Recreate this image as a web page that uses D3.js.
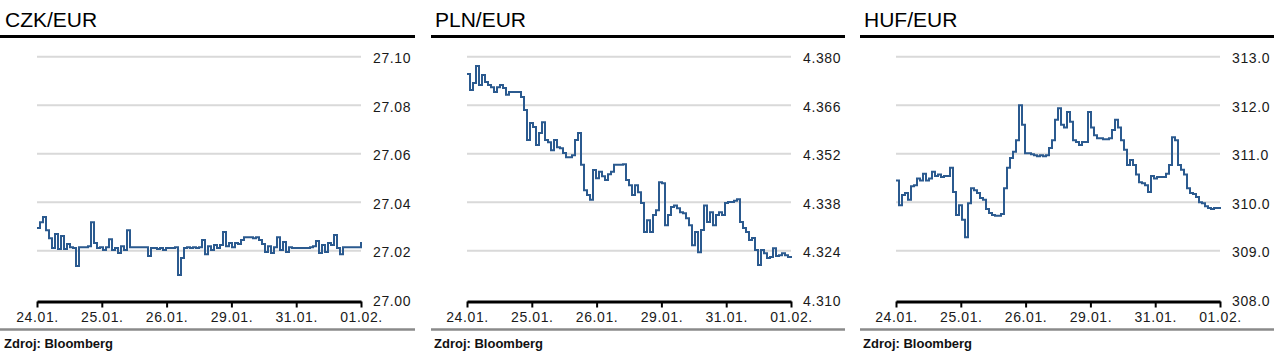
<!DOCTYPE html>
<html>
<head>
<meta charset="utf-8">
<script src="https://cdn.jsdelivr.net/npm/d3@7"></script>
<style>
  html, body { margin: 0; padding: 0; background: #fff; }
  svg { display: block; font-family: "Liberation Sans", Arial, sans-serif; }
</style>
</head>
<body>
<svg id="chart" width="1282" height="361"></svg>
<script>
// ---- data ----
const dateLabels = ["24.01.", "25.01.", "26.01.", "29.01.", "31.01.", "01.02."];

const czkTicks = [27.00, 27.02, 27.04, 27.06, 27.08, 27.10];
const plnTicks = [4.310, 4.324, 4.338, 4.352, 4.366, 4.380];
const hufTicks = [308.0, 309.0, 310.0, 311.0, 312.0, 313.0];

const czkValues = [
  27.0294, 27.0318, 27.0339, 27.0285, 27.0252, 27.0211, 27.0269, 27.0207, 27.0261, 27.0207,
  27.0228, 27.0215, 27.0211, 27.0137, 27.0215, 27.0215, 27.0215, 27.0219, 27.0318, 27.0232,
  27.0211, 27.0215, 27.0203, 27.0215, 27.0248, 27.0203, 27.0211, 27.0191, 27.0219, 27.0203,
  27.0285, 27.0215, 27.0215, 27.0215, 27.0215, 27.0215, 27.0215, 27.0178, 27.0211, 27.0211,
  27.0207, 27.0211, 27.0203, 27.0211, 27.0211, 27.0211, 27.0215, 27.0100, 27.0170, 27.0211,
  27.0215, 27.0211, 27.0215, 27.0211, 27.0215, 27.0244, 27.0186, 27.0219, 27.0203, 27.0224,
  27.0211, 27.0224, 27.0277, 27.0219, 27.0232, 27.0215, 27.0232, 27.0228, 27.0244, 27.0256,
  27.0256, 27.0256, 27.0252, 27.0256, 27.0244, 27.0228, 27.0195, 27.0219, 27.0191, 27.0215,
  27.0256, 27.0203, 27.0236, 27.0195, 27.0215, 27.0211, 27.0211, 27.0211, 27.0211, 27.0211,
  27.0211, 27.0215, 27.0219, 27.0240, 27.0191, 27.0224, 27.0195, 27.0232, 27.0224, 27.0265,
  27.0211, 27.0186, 27.0215, 27.0215, 27.0215, 27.0215, 27.0215, 27.0215, 27.0236
];

const plnValues = [
  4.3750, 4.3704, 4.3724, 4.3773, 4.3718, 4.3747, 4.3727, 4.3718, 4.3712, 4.3698,
  4.3712, 4.3718, 4.3710, 4.3690, 4.3698, 4.3698, 4.3698, 4.3698, 4.3684, 4.3646,
  4.3560, 4.3609, 4.3597, 4.3545, 4.3580, 4.3611, 4.3560, 4.3553, 4.3530, 4.3560,
  4.3539, 4.3536, 4.3522, 4.3510, 4.3510, 4.3516, 4.3560, 4.3580, 4.3488, 4.3415,
  4.3401, 4.3387, 4.3473, 4.3449, 4.3468, 4.3455, 4.3444, 4.3461, 4.3468, 4.3488,
  4.3488, 4.3488, 4.3490, 4.3444, 4.3429, 4.3401, 4.3429, 4.3409, 4.3378, 4.3294,
  4.3328, 4.3294, 4.3343, 4.3357, 4.3438, 4.3435, 4.3314, 4.3343, 4.3366, 4.3371,
  4.3363, 4.3351, 4.3348, 4.3334, 4.3314, 4.3256, 4.3294, 4.3236, 4.3300, 4.3371,
  4.3323, 4.3351, 4.3314, 4.3343, 4.3351, 4.3343, 4.3378, 4.3381, 4.3381, 4.3384,
  4.3389, 4.3323, 4.3306, 4.3294, 4.3271, 4.3277, 4.3242, 4.3199, 4.3242, 4.3233,
  4.3219, 4.3222, 4.3247, 4.3225, 4.3227, 4.3233, 4.3227, 4.3222, 4.3219
];

const hufValues = [
  310.45, 309.94, 310.15, 310.19, 310.05, 310.33, 310.35, 310.49, 310.45, 310.59,
  310.45, 310.49, 310.63, 310.54, 310.57, 310.52, 310.54, 310.54, 310.71, 310.21,
  309.74, 309.94, 309.64, 309.28, 309.98, 310.29, 310.25, 310.19, 310.09, 310.05,
  309.86, 309.78, 309.74, 309.72, 309.72, 309.76, 310.29, 310.71, 310.91, 311.04,
  311.28, 312.00, 311.60, 311.01, 311.01, 310.99, 310.97, 310.95, 310.97, 310.95,
  310.97, 311.12, 311.28, 311.70, 311.94, 311.60, 311.54, 311.86, 311.66, 311.28,
  311.24, 311.18, 311.24, 311.24, 311.86, 311.54, 311.38, 311.32, 311.32, 311.30,
  311.30, 311.32, 311.49, 311.70, 311.54, 311.28, 311.08, 310.77, 310.87, 310.77,
  310.57, 310.41, 310.39, 310.35, 310.21, 310.54, 310.49, 310.52, 310.52, 310.52,
  310.59, 310.77, 311.34, 311.28, 310.77, 310.67, 310.57, 310.29, 310.19, 310.17,
  310.11, 310.00, 309.98, 309.92, 309.88, 309.86, 309.88, 309.88, 309.90
];

const titles = ["CZK/EUR", "PLN/EUR", "HUF/EUR"];
const sourceText = "Zdroj: Bloomberg";

// ---- drawing ----
const panels = [
  { title: titles[0], values: czkValues, ticks: czkTicks, fmt: d3.format(".2f"), offset: 0 },
  { title: titles[1], values: plnValues, ticks: plnTicks, fmt: d3.format(".3f"), offset: 430 },
  { title: titles[2], values: hufValues, ticks: hufTicks, fmt: d3.format(".1f"), offset: 859 }
];

const svg = d3.select("#chart");
svg.append("rect").attr("width", 1282).attr("height", 361).attr("fill", "#fff");

const plotL = 37, plotR = 361, plotTop = 56.7, plotBottom = 299.3, axisY = 301.5;
const lineColor = "#2b5a8f";

panels.forEach(p => {
  const g = svg.append("g").attr("transform", `translate(${p.offset},0)`);

  // title
  g.append("text").attr("x", 5).attr("y", 27)
    .attr("font-size", 21).attr("fill", "#000").text(p.title);
  g.append("line").attr("x1", p.offset === 0 ? 0 : 1).attr("x2", 415)
    .attr("y1", 36.5).attr("y2", 36.5)
    .attr("stroke", "#000").attr("stroke-width", 3);

  const x = d3.scaleLinear().domain([0, p.values.length - 1]).range([plotL, plotR]);
  const xt = d3.scalePoint().domain(dateLabels).range([plotL, plotR]);
  const y = d3.scaleLinear().domain([p.ticks[0], p.ticks[p.ticks.length - 1]]).range([plotBottom, plotTop]);

  // gridlines
  g.append("g").selectAll("line").data(p.ticks.slice(1)).join("line")
    .attr("x1", plotL).attr("x2", plotR)
    .attr("y1", d => y(d)).attr("y2", d => y(d))
    .attr("stroke", "#d9d9d9").attr("stroke-width", 2);

  // y labels
  g.append("g").selectAll("text").data(p.ticks).join("text")
    .attr("x", 373).attr("y", d => y(d) + 6.5)
    .attr("font-size", 14).attr("letter-spacing", 0.6)
    .attr("fill", "#1a1a1a").text(d => p.fmt(d));

  // line
  const line = d3.line().curve(d3.curveStepAfter).x((d, i) => x(i)).y(d => y(d));
  g.append("path").datum(p.values)
    .attr("d", line).attr("fill", "none")
    .attr("stroke", lineColor).attr("stroke-width", 2)
    .attr("stroke-linejoin", "miter");

  // x axis
  const ax = g.append("g").attr("transform", `translate(0,${axisY})`)
    .call(d3.axisBottom(xt).tickSizeInner(6).tickSizeOuter(0).tickPadding(5));
  ax.select(".domain").attr("stroke", "#000").attr("stroke-width", 3);
  ax.selectAll(".tick line").attr("stroke", "#000").attr("stroke-width", 2);
  ax.selectAll(".tick text")
    .attr("font-size", 14).attr("letter-spacing", 0.6)
    .attr("font-family", "Liberation Sans, Arial, sans-serif")
    .attr("fill", "#1a1a1a");

  // footer
  g.append("line").attr("x1", p.offset === 0 ? 0 : 1).attr("x2", 415)
    .attr("y1", 329.5).attr("y2", 329.5)
    .attr("stroke", "#8a8a8a").attr("stroke-width", 2.5);
  g.append("text").attr("x", 4).attr("y", 347.5)
    .attr("font-size", 13).attr("font-weight", "bold")
    .attr("fill", "#111").text(sourceText);
});
</script>
</body>
</html>
